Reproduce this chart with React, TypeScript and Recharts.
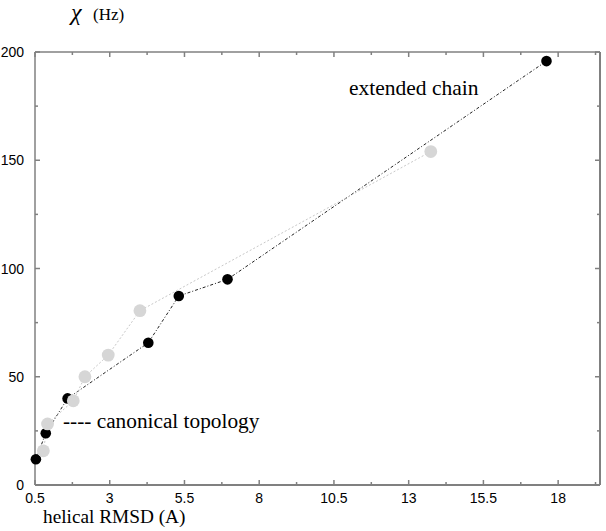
import React from 'react';
import { Customized, Line, LineChart, XAxis, YAxis } from 'recharts';

// canonical topology (black) and extended chain (gray) series
const blackX = [0.53, 0.86, 1.59, 4.29, 5.31, 6.94, 17.61];
const blackY = [11.9, 23.9, 40.0, 65.7, 87.3, 95.0, 195.8];
const grayX = [0.78, 0.92, 1.78, 2.17, 2.95, 4.01, 13.74];
const grayY = [15.8, 28.2, 38.9, 50.0, 60.0, 80.5, 154.0];

const xMajor = [0.5, 3, 5.5, 8, 10.5, 13, 15.5, 18];
const xMinor = [1.75, 4.25, 6.75, 9.25, 11.75, 14.25, 16.75, 19.25];
const yMajor = [0, 50, 100, 150, 200];
const yMinor = [25, 75, 125, 175];

const xTicks = [...xMajor, ...xMinor].sort((a, b) => a - b);
const yTicks = [...yMajor, ...yMinor].sort((a, b) => a - b);

const blackData = blackX.map((x, i) => ({ x, y: blackY[i] }));
const grayData = grayX.map((x, i) => ({ x, y: grayY[i] }));

const AXIS = '#808080';
const tickFont = { fontFamily: '"Liberation Sans", Arial, sans-serif', fontSize: 14, fill: '#000' };
const serif = '"Liberation Serif", "Times New Roman", serif';

const len = (major: boolean) => (major ? 5 : 3);

function BottomTick(props: any) {
  const { x, y, payload } = props;
  const major = xMajor.includes(payload.value);
  return (
    <g>
      <line x1={x} x2={x} y1={y} y2={y - len(major)} stroke={AXIS} strokeWidth={1.5} />
      {major && (
        <text x={x} y={y + 18} textAnchor="middle" {...tickFont}>
          {payload.value}
        </text>
      )}
    </g>
  );
}

function TopTick(props: any) {
  const { x, y, payload } = props;
  const major = xMajor.includes(payload.value);
  return <line x1={x} x2={x} y1={y} y2={y + len(major)} stroke={AXIS} strokeWidth={1.5} />;
}

function LeftTick(props: any) {
  const { x, y, payload } = props;
  const major = yMajor.includes(payload.value);
  return (
    <g>
      <line x1={x} x2={x + len(major)} y1={y} y2={y} stroke={AXIS} strokeWidth={1.5} />
      {major && (
        <text x={x - 11} y={y + 5} textAnchor="end" {...tickFont}>
          {payload.value}
        </text>
      )}
    </g>
  );
}

function RightTick(props: any) {
  const { x, y, payload } = props;
  const major = yMajor.includes(payload.value);
  return <line x1={x} x2={x - len(major)} y1={y} y2={y} stroke={AXIS} strokeWidth={1.5} />;
}

function Labels() {
  return (
    <g fontFamily={serif} fill="#000">
      <text x={71} y={20} fontSize={24} fontStyle="italic">χ</text>
      <text x={93} y={20} fontSize={17}>(Hz)</text>
      <text x={43} y={523} fontSize={19.3}>helical RMSD (A)</text>
      <text x={349} y={95} fontSize={21.5}>extended chain</text>
      <text x={63} y={428} fontSize={21.3}>---- canonical topology</text>
    </g>
  );
}

const dot = (r: number, fill: string) => (p: any) => (
  <circle key={p.index} cx={p.cx} cy={p.cy} r={r} fill={fill} />
);

export default function App() {
  return (
    <div style={{ position: 'absolute', left: 0, top: 0, background: '#fff' }}>
      <LineChart width={606} height={531} margin={{ top: 51, right: 5, bottom: 0, left: 0 }}>
        <XAxis
          xAxisId="b"
          dataKey="x"
          type="number"
          domain={[0.5, 19.4]}
          ticks={xTicks}
          interval={0}
          height={46}
          tickSize={0}
          tickMargin={0}
          tick={<BottomTick />}
          axisLine={{ stroke: AXIS, strokeWidth: 2 }}
        />
        <XAxis
          xAxisId="t"
          orientation="top"
          dataKey="x"
          type="number"
          domain={[0.5, 19.4]}
          ticks={xTicks}
          interval={0}
          height={1}
          tickSize={0}
          tickMargin={0}
          tick={<TopTick />}
          axisLine={{ stroke: AXIS, strokeWidth: 1.5 }}
        />
        <YAxis
          yAxisId="l"
          type="number"
          domain={[0, 200]}
          ticks={yTicks}
          interval={0}
          width={35}
          tickSize={0}
          tickMargin={0}
          tick={<LeftTick />}
          axisLine={{ stroke: AXIS, strokeWidth: 1.5 }}
        />
        <YAxis
          yAxisId="r"
          orientation="right"
          type="number"
          domain={[0, 200]}
          ticks={yTicks}
          interval={0}
          width={1}
          tickSize={0}
          tickMargin={0}
          tick={<RightTick />}
          axisLine={{ stroke: AXIS, strokeWidth: 2 }}
        />
        <Line
          xAxisId="t"
          yAxisId="r"
          data={grayData}
          dataKey="y"
          stroke="none"
          dot={false}
          isAnimationActive={false}
        />
        <Line
          xAxisId="b"
          yAxisId="l"
          data={blackData}
          dataKey="y"
          type="linear"
          stroke="#222"
          strokeWidth={1}
          strokeDasharray="3 2 1 2"
          dot={dot(5.3, '#000')}
          isAnimationActive={false}
        />
        <Line
          xAxisId="b"
          yAxisId="l"
          data={grayData}
          dataKey="y"
          type="linear"
          stroke="#c8c8c8"
          strokeWidth={1}
          strokeDasharray="2 2"
          dot={dot(6.4, '#d6d6d6')}
          isAnimationActive={false}
        />
        <Customized component={Labels} />
      </LineChart>
    </div>
  );
}
